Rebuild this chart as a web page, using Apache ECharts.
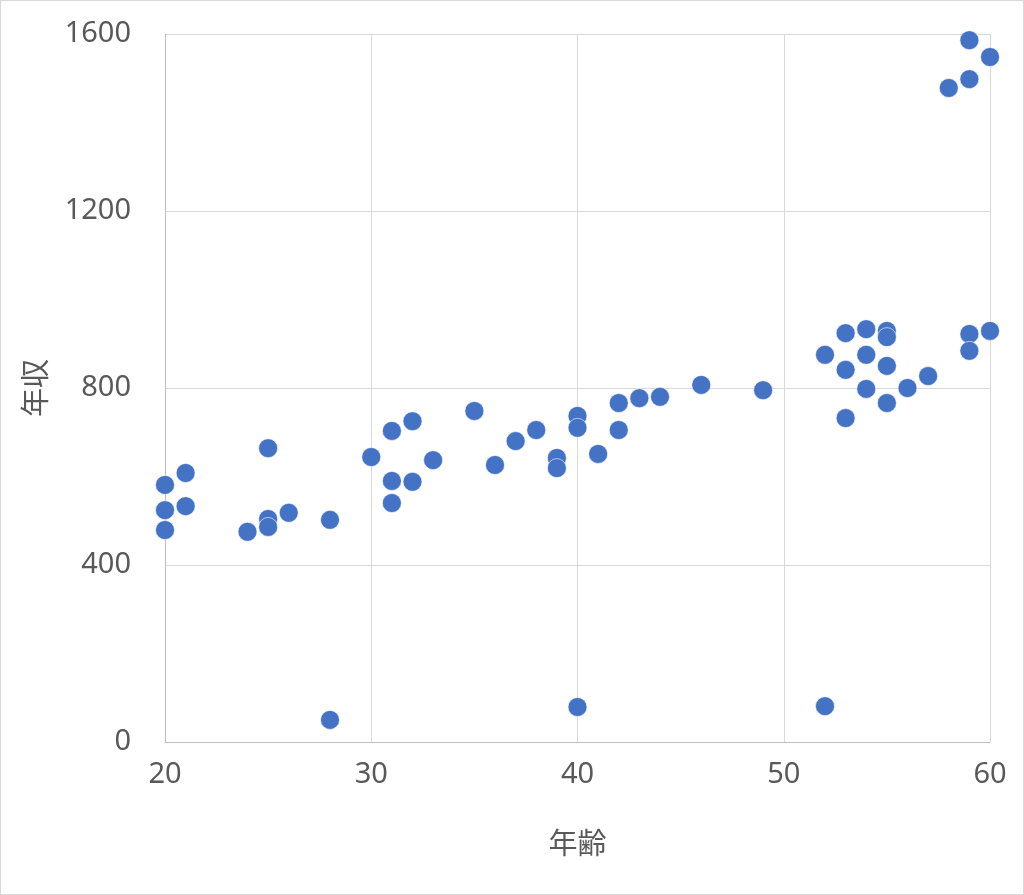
<!DOCTYPE html>
<html><head><meta charset="utf-8">
<script src="https://cdn.jsdelivr.net/npm/echarts@6/dist/echarts.min.js"></script>
<style>html,body{margin:0;padding:0;background:#fff}#c{width:1024px;height:895px;box-sizing:border-box;border:1px solid #d9d9d9}</style>
</head><body><div id="c"></div>
<script>
const ages = [20,20,20,21,21,24,25,25,25,26,28,28,30,31,31,31,32,32,33,35,36,37,38,39,39,40,40,40,41,42,42,43,44,46,49,52,52,53,53,53,54,54,54,55,55,55,55,56,57,58,59,59,59,59,60,60];
const incomes = [581,524,479,608,533,475,664,504,486,518,502,50,644,703,590,540,725,588,637,748,626,680,705,642,619,737,710,79,651,766,705,777,780,807,795,875,81,924,841,732,933,875,798,929,915,850,766,800,827,1478,1586,1498,922,884,1548,929];
const xTicks = [20,30,40,50,60];
const yTicks = [0,400,800,1200,1600];
const xName = '年齢';
const yName = '年収';

const data = ages.map((a,i)=>[a,incomes[i]]);
const chart = echarts.init(document.getElementById('c'));
const labelFont = {color:'#595959', fontSize:29, fontFamily:'"Noto Sans", sans-serif'};
chart.setOption({
  animation:false,
  grid:{left:164, right:33, top:33, bottom:152, containLabel:false},
  xAxis:{type:'value', min:xTicks[0], max:xTicks[xTicks.length-1], interval:10,
    name:xName, nameLocation:'middle', nameGap:86,
    nameTextStyle:{color:'#595959', fontSize:29, fontFamily:'"Noto Sans CJK JP", sans-serif'},
    axisLine:{show:true, lineStyle:{color:'#bfbfbf', width:1}},
    axisTick:{show:false},
    axisLabel:Object.assign({margin:18, formatter:v=>String(v)}, labelFont),
    splitLine:{show:true, lineStyle:{color:'#d9d9d9', width:1}}},
  yAxis:{type:'value', min:yTicks[0], max:yTicks[yTicks.length-1], interval:400,
    name:yName, nameLocation:'middle', nameGap:116, nameRotate:90,
    nameTextStyle:{color:'#595959', fontSize:29, fontFamily:'"Noto Sans CJK JP", sans-serif'},
    axisLine:{show:true, lineStyle:{color:'#bfbfbf', width:1}},
    axisTick:{show:false},
    axisLabel:Object.assign({margin:34, formatter:v=>String(v)}, labelFont),
    splitLine:{show:true, lineStyle:{color:'#d9d9d9', width:1}}},
  series:[{type:'scatter', data:data, symbolSize:19,
    itemStyle:{color:'#4472C4', opacity:1, borderColor:'#ffffff', borderWidth:0.6}}]
});
</script></body></html>
